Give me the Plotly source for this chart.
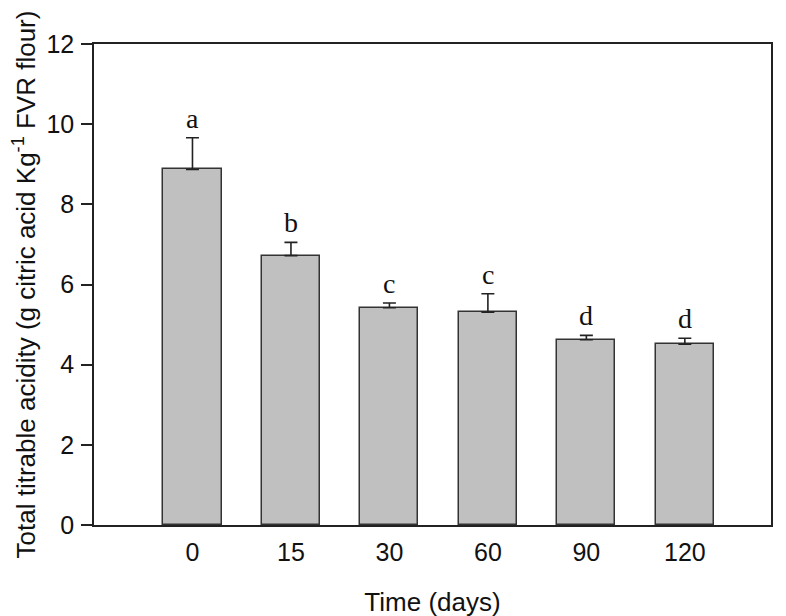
import plotly.graph_objects as go

categories = ["0", "15", "30", "60", "90", "120"]
values = [8.87, 6.72, 5.42, 5.31, 4.62, 4.51]
errors = [0.79, 0.33, 0.12, 0.46, 0.11, 0.15]
letters = ["a", "b", "c", "c", "d", "d"]
y_ticks = [0, 2, 4, 6, 8, 10, 12]

fig = go.Figure()
fig.add_trace(go.Bar(
    x=list(range(len(categories))),
    y=values,
    width=0.59,
    marker=dict(color="#c0c0c0", line=dict(color="#333333", width=1.5)),
    error_y=dict(type="data", symmetric=False, array=errors,
                 arrayminus=[0] * len(errors),
                 color="#222222", thickness=1.6, width=6.5),
    showlegend=False,
    hoverinfo="skip",
))

for i, (v, e, l) in enumerate(zip(values, errors, letters)):
    fig.add_annotation(x=i, y=v + e, text=l, showarrow=False,
                       yanchor="bottom", yshift=2,
                       font=dict(family="Liberation Serif, Times New Roman, serif",
                                 size=28, color="#111111"))

axis_font = "Liberation Sans, Arial, Helvetica, sans-serif"
fig.update_layout(
    width=786, height=616,
    margin=dict(l=86, r=23, t=36, b=99),
    paper_bgcolor="white", plot_bgcolor="white",
    font=dict(family=axis_font, color="#111111"),
    bargap=0,
    xaxis=dict(
        range=[-1, 5.875],
        tickmode="array",
        tickvals=list(range(len(categories))),
        ticktext=categories,
        ticks="",
        ticklabelstandoff=4,
        tickfont=dict(size=25),
        showgrid=False, zeroline=False,
        showline=True, linecolor="#222222", linewidth=1.5, mirror=True,
        automargin=False,
        title=dict(text="Time (days)", font=dict(size=26), standoff=28),
    ),
    yaxis=dict(
        range=[0, 12],
        tickmode="array",
        tickvals=y_ticks,
        ticks="outside", ticklen=11, tickwidth=1.5, tickcolor="#222222",
        ticklabelstandoff=2,
        tickfont=dict(size=25),
        showgrid=False, zeroline=False,
        showline=True, linecolor="#222222", linewidth=1.5, mirror=True,
        automargin=False,
        title=dict(text="Total titrable acidity (g citric acid Kg<sup>-1</sup> FVR flour)",
                   font=dict(size=26), standoff=22),
    ),
)

fig.write_html("out.html")
